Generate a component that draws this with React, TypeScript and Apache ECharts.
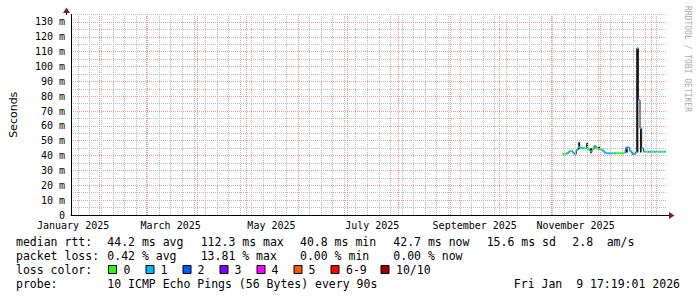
import React, { useEffect, useRef } from 'react';
import * as echarts from 'echarts';

// x unit: days since 2025-01-01 00:00
const X_MIN = 13.72;
const X_MAX = 373.72;

const MONTH_LABEL_DAYS = [15, 74, 135, 196, 258, 319];
const MONTH_LABELS = ['January 2025', 'March 2025', 'May 2025', 'July 2025', 'September 2025', 'November 2025'];
const MONTH_START_DAYS = [31, 59, 90, 120, 151, 181, 212, 243, 273, 304, 334, 365];
const WEEK_START_DAYS = [18, 25, 32, 39, 46, 53, 60, 67, 74, 81, 88, 95, 102, 109, 116, 123, 130, 137, 144, 151, 158, 165, 172, 179, 186, 193, 200, 207, 214, 221, 228, 235, 242, 249, 256, 263, 270, 277, 284, 291, 298, 305, 312, 319, 326, 333, 340, 347, 354, 361, 368];

// median rtt steps
const STEP_DAYS = [311.0, 312.2, 313.4, 314.6, 315.8, 317.0, 318.2, 319.4, 320.6, 321.8, 323.0, 324.2, 325.4, 326.6, 327.8, 329.0, 330.2, 331.4, 332.6, 333.8, 335.0, 336.2, 337.4, 338.6, 339.8, 341.0, 342.2, 343.4, 344.6, 345.8, 347.0, 348.2, 349.4, 350.6, 351.8, 353.0, 354.2, 355.4, 356.0, 357.0, 358.0, 359.0, 360.2, 361.4, 362.6, 363.8, 365.0, 366.2, 367.4, 368.6, 369.8, 371.0, 372.2, 373.4];
const END_DAY = 373.72;
const MEDIAN_MS = [41.1, 40.8, 41.5, 42.6, 43.3, 42.0, 40.8, 43.8, 45.6, 45.3, 44.9, 44.9, 45.0, 44.0, 42.8, 44.3, 46.5, 44.9, 44.5, 44.0, 43.4, 42.0, 41.5, 41.5, 41.5, 41.5, 41.5, 41.5, 41.5, 41.5, 41.5, 42.0, 45.0, 45.5, 43.0, 41.8, 41.0, 42.6, 112.3, 77.4, 58.4, 45.0, 42.6, 42.6, 42.6, 42.6, 42.6, 42.6, 42.6, 42.6, 42.6, 42.6, 42.6, 42.7];
const LOSS_LEVEL = [0, 0, 1, 1, 0, 1, 1, 1, 1, 0, 1, 0, 1, 0, 1, 0, 1, 0, 1, 0, 1, 1, 1, 1, 1, 0, 1, 0, 0, 0, 0, 1, 1, 1, 1, 1, 1, 1, 1, 1, 1, 1, 1, 0, 1, 1, 0, 1, 1, 0, 1, 0, 1, 1];
const SMOKE_LO = [41.1, 40.8, 41.5, 42.6, 43.3, 42.0, 40.8, 43.8, 44.5, 45.3, 44.9, 44.9, 45.0, 44.0, 41.5, 44.3, 46.5, 44.9, 44.5, 44.0, 43.4, 42.0, 41.5, 41.5, 41.5, 41.5, 41.5, 41.5, 41.5, 41.5, 41.5, 42.0, 42.0, 45.5, 43.0, 40.5, 41.0, 42.6, 42.0, 77.4, 42.0, 45.0, 42.6, 42.6, 42.6, 42.6, 42.6, 42.6, 42.6, 42.6, 42.6, 42.6, 42.6, 42.7];
const SMOKE_HI = [41.1, 40.8, 41.5, 42.6, 43.3, 42.0, 40.8, 43.8, 48.9, 45.3, 44.9, 44.9, 48.5, 44.0, 45.0, 44.3, 46.5, 44.9, 46.0, 44.0, 43.4, 42.0, 41.5, 41.5, 41.5, 41.5, 41.5, 41.5, 41.5, 41.5, 41.5, 42.0, 46.0, 45.5, 43.0, 42.0, 41.0, 42.6, 112.3, 77.4, 58.4, 45.0, 42.6, 42.6, 42.6, 42.6, 42.6, 42.6, 42.6, 42.6, 42.6, 42.6, 42.6, 42.7];

const LOSS_COLORS = ['#26ff00', '#00b8ff', '#0059ff', '#7e00ff', '#ff00ff', '#ff5500', '#ff0000', '#a10000'];
const LOSS_LABELS = ['0', '1', '2', '3', '4', '5', '6-9', '10/10'];

const RTT_STATS = ['median rtt:', '44.2 ms avg', '112.3 ms max', '40.8 ms min', '42.7 ms now', '15.6 ms sd', '2.8', 'am/s'];
const LOSS_STATS = ['packet loss:', '0.42 % avg', '13.81 % max', '0.00 % min', '0.00 % now'];
const PROBE_TEXT = ['probe:', '10 ICMP Echo Pings (56 Bytes) every 90s'];
const DATE_TEXT = 'Fri Jan  9 17:19:01 2026';
const WATERMARK = 'RRDTOOL / TOBI OETIKER';

export default function App() {
  const ref = useRef<HTMLDivElement>(null);
  useEffect(() => {
    const chart = echarts.init(ref.current!, null, { renderer: 'svg' });
    const mono = 'DejaVu Sans Mono';
    const n = STEP_DAYS.length;
    const smokeData = STEP_DAYS.map((d, i) => [d, i < n - 1 ? STEP_DAYS[i + 1] : END_DAY, SMOKE_LO[i], SMOKE_HI[i]]);
    const medianData = STEP_DAYS.map((d, i) => [
      d,
      i < n - 1 ? STEP_DAYS[i + 1] : END_DAY,
      MEDIAN_MS[i],
      i < n - 1 ? MEDIAN_MS[i + 1] : MEDIAN_MS[i],
      LOSS_LEVEL[i],
    ]);
    const gray = '#bdbdbd';
    const red = '#eb9a9a';
    const arrowColor = '#8b1a1a';

    const statX = [16, 107.3, 200.7, 300, 393.3, 486.7, 572.3, 606.7];
    const rowY = [241.5, 255.5, 269.5, 283.5];
    const legendText = (text: string, x: number, y: number, align = 'left') => ({
      type: 'text', x, y, silent: true,
      style: { text, fill: '#000', font: `11.5px "${mono}"`, textAlign: align, textVerticalAlign: 'middle' },
    });
    const graphics: any[] = [];
    RTT_STATS.forEach((t, i) => graphics.push(legendText(t, statX[i], rowY[0])));
    LOSS_STATS.forEach((t, i) => graphics.push(legendText(t, statX[i], rowY[1])));
    graphics.push(legendText('loss color:', 16, rowY[2]));
    const boxX = [108, 145.5, 182.5, 219.5, 256.5, 293.5, 330.5, 380.5];
    const lblX = [123.5, 160.5, 197.5, 234.5, 271.5, 308.5, 346, 396];
    LOSS_LABELS.forEach((l, i) => {
      graphics.push({ type: 'rect', silent: true, shape: { x: boxX[i] + 0.5, y: 265.5, width: 8, height: 8 }, style: { fill: LOSS_COLORS[i], stroke: '#000', lineWidth: 1 } });
      graphics.push(legendText(l, lblX[i], rowY[2]));
    });
    graphics.push(legendText(PROBE_TEXT[0], 16, rowY[3]));
    graphics.push(legendText(PROBE_TEXT[1], 107.3, rowY[3]));
    graphics.push(legendText(DATE_TEXT, 680, rowY[3], 'right'));
    graphics.push({
      type: 'text', x: 687.5, y: 59, rotation: -Math.PI / 2, silent: true,
      style: { text: WATERMARK, fill: '#aaaaaa', font: `8px "${mono}"`, textAlign: 'center', textVerticalAlign: 'middle' },
    });
    // axis extensions + arrows
    graphics.push({ type: 'line', silent: true, shape: { x1: 66.5, y1: 15, x2: 66.5, y2: 11 }, style: { stroke: '#000', lineWidth: 1 } });
    graphics.push({ type: 'polygon', silent: true, shape: { points: [[63, 13], [70, 13], [66.5, 7.5]] }, style: { fill: arrowColor } });
    graphics.push({ type: 'line', silent: true, shape: { x1: 666, y1: 215.5, x2: 670, y2: 215.5 }, style: { stroke: '#000', lineWidth: 1 } });
    graphics.push({ type: 'polygon', silent: true, shape: { points: [[669, 212], [669, 219], [674.5, 215.5]] }, style: { fill: arrowColor } });

    chart.setOption({
      animation: false,
      backgroundColor: '#ffffff',
      grid: { left: 66, top: 14.5, width: 600, height: 200.5, containLabel: false },
      xAxis: {
        type: 'value', min: X_MIN, max: X_MAX,
        axisLine: { show: true, onZero: false, lineStyle: { color: '#000', width: 1 } },
        axisTick: { show: false },
        splitLine: { show: false },
        axisLabel: {
          customValues: MONTH_LABEL_DAYS,
          formatter: (v: number) => {
            const i = MONTH_LABEL_DAYS.indexOf(v);
            return i >= 0 ? MONTH_LABELS[i] : '';
          },
          fontFamily: mono, fontSize: 10, color: '#000', margin: 5,
        },
      },
      yAxis: {
        type: 'value', min: 0, max: 135, interval: 5,
        name: 'Seconds', nameLocation: 'middle', nameRotate: 90, nameGap: 52,
        nameTextStyle: { fontFamily: 'DejaVu Sans', fontSize: 11, color: '#000' },
        axisLine: { show: true, lineStyle: { color: '#000', width: 1 } },
        axisTick: { show: false },
        axisLabel: {
          formatter: (v: number) => (v % 10 === 0 && v <= 130 ? (v === 0 ? '0' : `${v} m`) : ''),
          fontFamily: mono, fontSize: 10, color: '#000', margin: 6,
        },
        splitLine: { show: true, lineStyle: { color: [red, gray], type: [1, 1], width: 1 } },
      },
      graphic: graphics,
      series: [
        {
          type: 'line', data: [], z: 1, silent: true,
          markLine: {
            silent: true, symbol: ['none', 'none'], label: { show: false }, animation: false,
            lineStyle: { color: gray, type: 'dotted', width: 1 },
            data: WEEK_START_DAYS.map((d) => ({ xAxis: d })),
          },
        },
        {
          type: 'line', data: [], z: 2, silent: true,
          markLine: {
            silent: true, symbol: ['none', 'none'], label: { show: false }, animation: false,
            lineStyle: { color: red, type: 'dotted', width: 1 },
            data: MONTH_START_DAYS.map((d) => ({ xAxis: d })),
          },
        },
        {
          type: 'custom', z: 3, silent: true, clip: true,
          encode: { x: [0, 1], y: [2, 3] },
          data: smokeData,
          renderItem: (params: any, api: any) => {
            const p0 = api.coord([api.value(0), api.value(3)]);
            const p1 = api.coord([api.value(1), api.value(2)]);
            return { type: 'rect', shape: { x: p0[0], y: p0[1], width: p1[0] - p0[0], height: p1[1] - p0[1] }, style: { fill: '#151515' } };
          },
        },
        {
          type: 'custom', z: 4, silent: true, clip: true,
          encode: { x: [0, 1], y: [2, 3] },
          data: medianData,
          renderItem: (params: any, api: any) => {
            const a = api.coord([api.value(0), api.value(2)]);
            const b = api.coord([api.value(1), api.value(2)]);
            const c = api.coord([api.value(1), api.value(3)]);
            const color = LOSS_COLORS[api.value(4)];
            return {
              type: 'group',
              children: [
                { type: 'line', shape: { x1: b[0], y1: b[1], x2: c[0], y2: c[1] }, style: { stroke: '#202020', lineWidth: 1 } },
                { type: 'line', shape: { x1: a[0], y1: a[1], x2: b[0], y2: b[1] }, style: { stroke: color, lineWidth: 2 } },
              ],
            };
          },
        },
      ],
    });
    return () => chart.dispose();
  }, []);
  return <div ref={ref} style={{ position: 'fixed', left: 0, top: 0, width: 697, height: 297, background: '#fff' }} />;
}
